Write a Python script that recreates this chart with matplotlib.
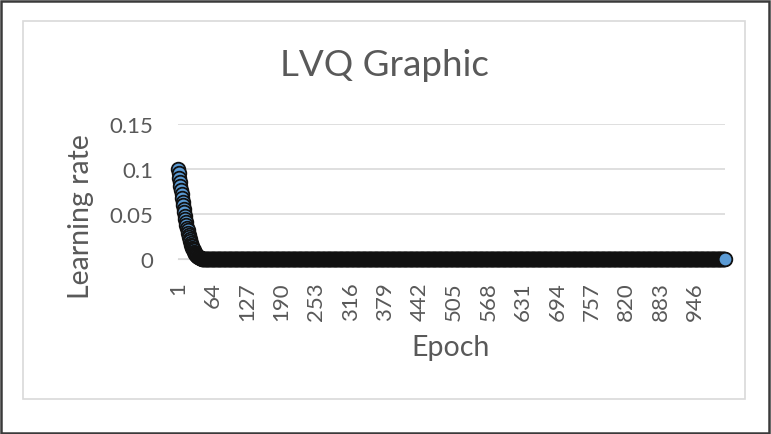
import matplotlib
matplotlib.use("Agg")
import matplotlib.pyplot as plt
from matplotlib.patches import Rectangle

# learning rate per epoch (fast decay, then ~0)
rate_head = [
    0.1, 0.0952, 0.0905, 0.0858, 0.0812, 0.0767, 0.0723, 0.0680, 0.0638, 0.0597,
    0.0557, 0.0519, 0.0482, 0.0447, 0.0413, 0.0381, 0.0350, 0.0321, 0.0293, 0.0267,
    0.0242, 0.0219, 0.0197, 0.0177, 0.0158, 0.0140, 0.0124, 0.0109, 0.0095, 0.0083,
    0.0071, 0.0061, 0.0052, 0.0044, 0.0037, 0.0031, 0.0026, 0.0021, 0.0017, 0.0014,
    0.0011, 0.0009, 0.0007, 0.0005, 0.0004, 0.0003, 0.0002, 0.0002, 0.0001,
]
n_epochs = 1000
rate_tail = [0.0] * (n_epochs - len(rate_head))
rate = rate_head + rate_tail
epochs = list(range(1, n_epochs + 1))

x_ticks = list(range(1, n_epochs + 1, 63))
y_ticks = [0, 0.05, 0.1, 0.15]
y_tick_labels = ["0", "0.05", "0.1", "0.15"]

W, H = 771, 435
text_gray = "#595959"
plt.rcParams["font.family"] = ["Lato", "DejaVu Sans"]

fig = plt.figure(figsize=(W / 100, H / 100), dpi=100)

# outer dark frame and inner light chart-area frame
fig.patches.append(Rectangle((1 / W, 1 / H), (W - 3) / W, (H - 3) / H,
                             transform=fig.transFigure, fill=False,
                             edgecolor="#3a3a3a", linewidth=1.8))
fig.patches.append(Rectangle((23 / W, 1 - 400 / H), (745 - 23) / W, (400 - 22) / H,
                             transform=fig.transFigure, fill=False,
                             edgecolor="#d9d9d9", linewidth=1.2))

ax = fig.add_axes([178 / W, 1 - 260 / H, (725 - 178) / W, (260 - 125) / H])
ax.plot(epochs, rate, linestyle="none", marker="o", markersize=9.8,
        markerfacecolor="#5b9bd5", markeredgecolor="#111111",
        markeredgewidth=1.3, zorder=3, clip_on=False)

ax.set_xlim(0.5, n_epochs + 0.5)
ax.set_ylim(0, 0.15)
ax.set_yticks(y_ticks)
ax.set_yticklabels(y_tick_labels)
ax.set_xticks(x_ticks)
ax.set_xticklabels([str(t) for t in x_ticks], rotation=90, va="top", ha="center")
ax.tick_params(axis="both", length=0, labelsize=16, colors=text_gray)
ax.tick_params(axis="y", pad=18)
ax.tick_params(axis="x", pad=16)
ax.grid(axis="y", color="#d9d9d9", linewidth=1.2)
ax.set_axisbelow(True)
for side in ["top", "left", "right"]:
    ax.spines[side].set_visible(False)
ax.spines["bottom"].set_color("#d9d9d9")

fig.text(384 / W, 1 - 65 / H, "LVQ Graphic", ha="center", va="center",
         fontsize=26.5, color=text_gray)
fig.text(451 / W, 1 - 348 / H, "Epoch", ha="center", va="center",
         fontsize=20.5, color=text_gray)
fig.text(81 / W, 1 - 217 / H, "Learning rate", ha="center", va="center",
         rotation=90, fontsize=20.5, color=text_gray)

fig.savefig("out.png", dpi=100)
